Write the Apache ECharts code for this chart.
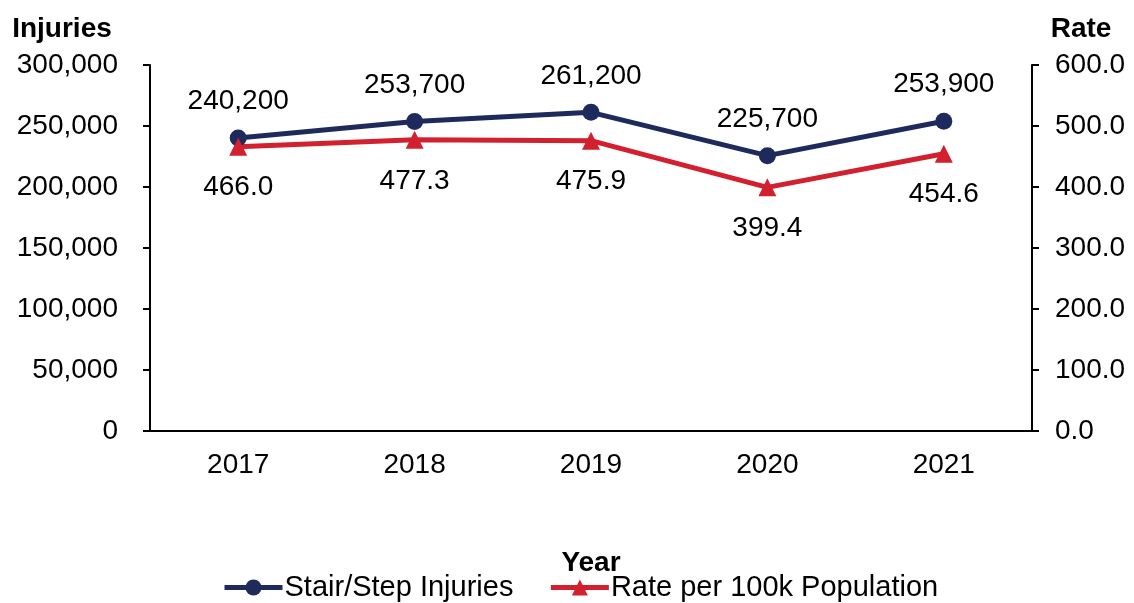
<!DOCTYPE html>
<html>
<head>
<meta charset="utf-8">
<script src="https://cdn.jsdelivr.net/npm/echarts@6/dist/echarts.min.js"></script>
<style>
html, body { margin: 0; padding: 0; background: #fff; }
#chart { width: 1134px; height: 603px; }
</style>
</head>
<body>
<div id="chart"></div>
<script>
var years = ['2017', '2018', '2019', '2020', '2021'];
var injuries = [240200, 253700, 261200, 225700, 253900];
var rates = [466.0, 477.3, 475.9, 399.4, 454.6];

var navy = '#1f2a5c';
var red = '#d2202f';
var font = 'Liberation Sans, Arial, sans-serif';

var chart = echarts.init(document.getElementById('chart'));

var option = {
    backgroundColor: '#fff',
    animation: false,
    textStyle: { fontFamily: font, color: '#000' },
    grid: { left: 150, right: 102, top: 65, bottom: 172 },
    legend: {
        bottom: -4,
        left: 217,
        itemWidth: 58,
        itemHeight: 20,
        itemGap: 35,
        lineStyle: { width: 5 },
        textStyle: { fontSize: 29, color: '#000', fontFamily: font, padding: [0, 0, 0, -3] },
        data: ['Stair/Step Injuries', 'Rate per 100k Population']
    },
    xAxis: {
        type: 'category',
        data: years,
        name: 'Year',
        nameLocation: 'middle',
        nameGap: 118,
        nameTextStyle: { fontSize: 28, fontWeight: 'bold', color: '#000' },
        axisLine: { lineStyle: { color: '#000', width: 2 } },
        axisTick: { show: false },
        axisLabel: { fontSize: 28, color: '#000', margin: 20 }
    },
    yAxis: [{
        type: 'value',
        min: 0,
        max: 300000,
        interval: 50000,
        name: 'Injuries',
        nameGap: 22,
        nameTextStyle: { fontSize: 28, fontWeight: 'bold', color: '#000', align: 'center', padding: [0, 176, 0, 0] },
        axisLine: { show: true, lineStyle: { color: '#000', width: 2 } },
        axisTick: { show: true, length: 7, lineStyle: { color: '#000', width: 2 } },
        splitLine: { show: false },
        axisLabel: {
            fontSize: 28, color: '#000', margin: 32,
            formatter: function (v) { return v.toLocaleString('en-US'); }
        }
    }, {
        type: 'value',
        min: 0,
        max: 600,
        interval: 100,
        name: 'Rate',
        nameGap: 22,
        nameTextStyle: { fontSize: 28, fontWeight: 'bold', color: '#000', align: 'center', padding: [0, 0, 0, 98] },
        axisLine: { show: true, lineStyle: { color: '#000', width: 2 } },
        axisTick: { show: true, length: 7, lineStyle: { color: '#000', width: 2 } },
        splitLine: { show: false },
        axisLabel: {
            fontSize: 28, color: '#000', margin: 23,
            formatter: function (v) { return v.toFixed(1); }
        }
    }],
    series: [{
        name: 'Stair/Step Injuries',
        type: 'line',
        yAxisIndex: 0,
        data: injuries,
        symbol: 'circle',
        symbolSize: 17,
        lineStyle: { color: navy, width: 5 },
        itemStyle: { color: navy },
        label: {
            show: true,
            position: 'top',
            distance: 14,
            fontSize: 28,
            color: '#000',
            formatter: function (p) { return p.value.toLocaleString('en-US'); }
        }
    }, {
        name: 'Rate per 100k Population',
        type: 'line',
        yAxisIndex: 1,
        data: rates,
        symbol: 'triangle',
        symbolSize: 18,
        lineStyle: { color: red, width: 5 },
        itemStyle: { color: red },
        label: {
            show: true,
            position: 'bottom',
            distance: 18,
            fontSize: 28,
            color: '#000',
            formatter: function (p) { return p.value.toFixed(1); }
        }
    }]
};

chart.setOption(option);
</script>
</body>
</html>
